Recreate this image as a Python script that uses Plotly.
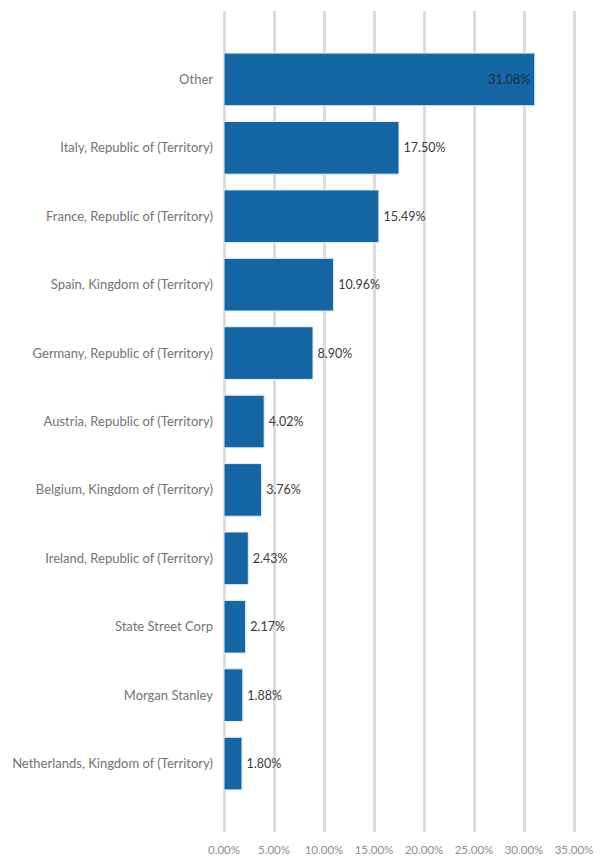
import plotly.graph_objects as go

categories = [
    "Other",
    "Italy, Republic of (Territory)",
    "France, Republic of (Territory)",
    "Spain, Kingdom of (Territory)",
    "Germany, Republic of (Territory)",
    "Austria, Republic of (Territory)",
    "Belgium, Kingdom of (Territory)",
    "Ireland, Republic of (Territory)",
    "State Street Corp",
    "Morgan Stanley",
    "Netherlands, Kingdom of (Territory)",
]
values = [31.08, 17.50, 15.49, 10.96, 8.90, 4.02, 3.76, 2.43, 2.17, 1.88, 1.80]
tick_vals = [0, 5, 10, 15, 20, 25, 30, 35]

FONT = "Lato, Open Sans, sans-serif"
positions = ["inside" if v > 25 else "outside" for v in values]

fig = go.Figure(
    go.Bar(
        x=values,
        y=categories,
        orientation="h",
        marker=dict(color="#1467a4", line=dict(color="#e8eef5", width=1)),
        text=[f"\u2009{v:.2f}%" if p == "outside" else f"{v:.2f}%\u2009"
              for v, p in zip(values, positions)],
        textposition=positions,
        insidetextanchor="end",
        textfont=dict(family=FONT, size=12.5, color="#3a3a3a"),
        insidetextfont=dict(family=FONT, size=12.5, color="#1d2a38"),
        outsidetextfont=dict(family=FONT, size=12.5, color="#3a3a3a"),
        constraintext="none",
        cliponaxis=False,
        hoverinfo="skip",
    )
)

fig.update_layout(
    width=600,
    height=851,
    margin=dict(l=214, r=32, t=3, b=27, autoexpand=False),
    paper_bgcolor="white",
    plot_bgcolor="white",
    bargap=0.23,
    showlegend=False,
    font=dict(family=FONT),
)
fig.update_xaxes(
    range=[-0.2, 35.2],
    tickvals=tick_vals,
    ticktext=[f"{t:.2f}%" for t in tick_vals],
    showgrid=True,
    gridcolor="#dcdcdc",
    gridwidth=3,
    zeroline=False,
    showline=False,
    ticks="",
    automargin=False,
    tickfont=dict(family=FONT, size=11.5, color="#8c8c8c"),
    ticklabelstandoff=9,
)
fig.update_yaxes(
    categoryorder="array",
    categoryarray=categories,
    range=[11, -1],
    showgrid=False,
    zeroline=False,
    showline=False,
    ticks="",
    automargin=False,
    tickfont=dict(family=FONT, size=13, color="#737373"),
    ticklabelstandoff=8,
)

fig.write_html("out.html")
